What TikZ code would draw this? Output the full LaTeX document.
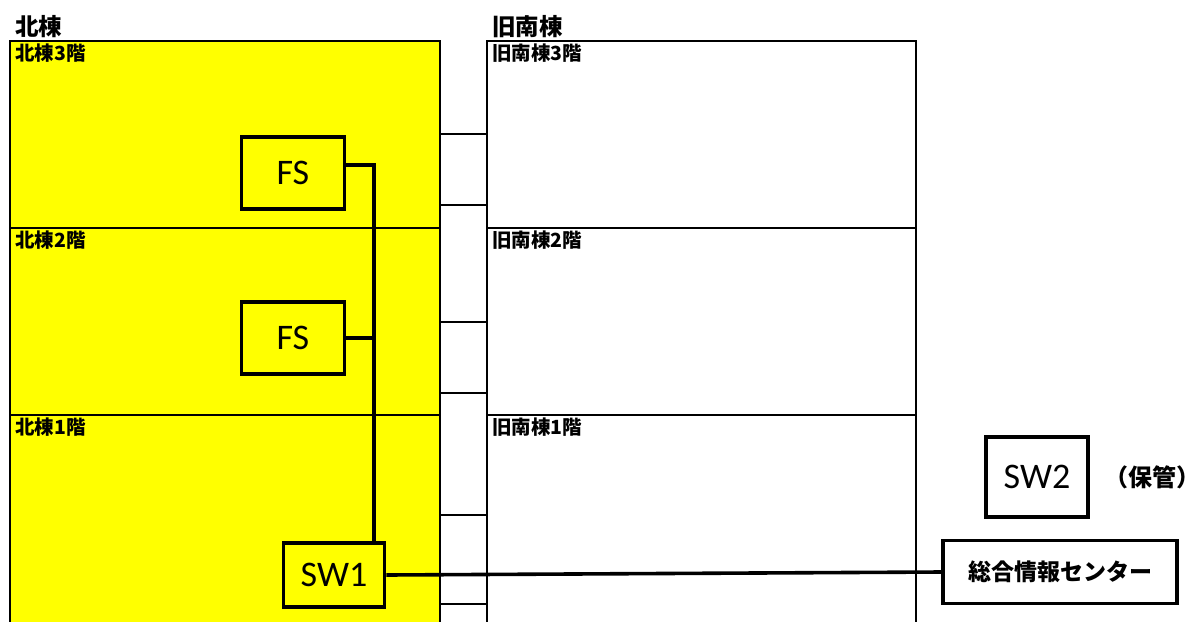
\documentclass[tikz,border=0pt]{standalone}
\usepackage{fontspec}
\setmainfont{Carlito}
\newfontfamily\cjk{Noto Sans CJK JP}
\usetikzlibrary{positioning}
\definecolor{flooryellow}{RGB}{255,255,0}

\begin{document}
\begin{tikzpicture}[x=1pt,y=-1pt,
  floor/.style={draw,line width=1.8pt,inner sep=0pt,outer sep=0pt,minimum width=430pt,minimum height=187pt},
  north floor/.style={floor,fill=flooryellow},
  south floor/.style={floor,fill=white,minimum width=429pt},
  floor label/.style={anchor=base west,inner sep=0pt,font=\cjk\bfseries\fontsize{19.5}{19.5}\selectfont},
  bldg label/.style={anchor=base west,inner sep=0pt,font=\cjk\bfseries\fontsize{23.5}{23.5}\selectfont},
  dev/.style={draw,line width=3.6pt,inner sep=0pt,font=\fontsize{36}{36}\selectfont},
  cable/.style={line width=3.6pt}]

  \useasboundingbox (0,0) rectangle (1190,621);

  % 北棟
  \node[bldg label] (nb) at (15,35) {北棟};
  \node[north floor,anchor=north west] (n3) at (10,41) {};
  \node[north floor,below=0pt of n3] (n2) {};
  \node[north floor,below=0pt of n2,minimum height=220pt] (n1) {};
  \node[floor label] (n3l) at ([shift={(5,19)}]n3.north west) {北棟3階};
  \node[floor label] (n2l) at ([shift={(5,19)}]n2.north west) {北棟2階};
  \node[floor label] (n1l) at ([shift={(5,19)}]n1.north west) {北棟1階};

  % 旧南棟
  \node[bldg label] (sb) at (492,35) {旧南棟};
  \node[south floor,anchor=north west] (s3) at (487,41) {};
  \node[south floor,below=0pt of s3] (s2) {};
  \node[south floor,below=0pt of s2,minimum height=220pt] (s1) {};
  \node[floor label] (s3l) at ([shift={(5,19)}]s3.north west) {旧南棟3階};
  \node[floor label] (s2l) at ([shift={(5,19)}]s2.north west) {旧南棟2階};
  \node[floor label] (s1l) at ([shift={(5,19)}]s1.north west) {旧南棟1階};

  % 渡り廊下
  \foreach \y in {134,205,322,393,515,604}
    \draw[line width=1.8pt] (n3.east |- 0,\y) -- (s3.west |- 0,\y);

  % 機器
  \node[dev,fill=flooryellow,minimum width=103pt,minimum height=72pt] (fs3) at (293,173) {FS};
  \node[dev,fill=flooryellow,minimum width=103pt,minimum height=72pt] (fs2) at (293,338) {FS};
  \node[dev,fill=flooryellow,minimum width=101pt,minimum height=64pt] (sw1) at (334,575) {SW1};
  \node[dev,fill=white,minimum width=102pt,minimum height=80pt] (sw2) at (1037,477) {SW2};
  \node[right=14pt of sw2,inner sep=0pt,font=\cjk\bfseries\fontsize{24}{24}\selectfont] (keep) {（保管）};
  \node[dev,fill=white,minimum width=234pt,minimum height=63pt,
    font=\cjk\bfseries\fontsize{23}{23}\selectfont] (isc) at (1060,572) {総合情報センター};

  % 配線
  \coordinate (riser) at (374,165);
  \draw[cable] (fs3.east |- riser) -- (riser) -- (riser |- sw1.north);
  \draw[cable] (fs2.east) -- (fs2.east -| riser);
  \draw[cable] (sw1.east) -- (isc.west);

\end{tikzpicture}
\end{document}
